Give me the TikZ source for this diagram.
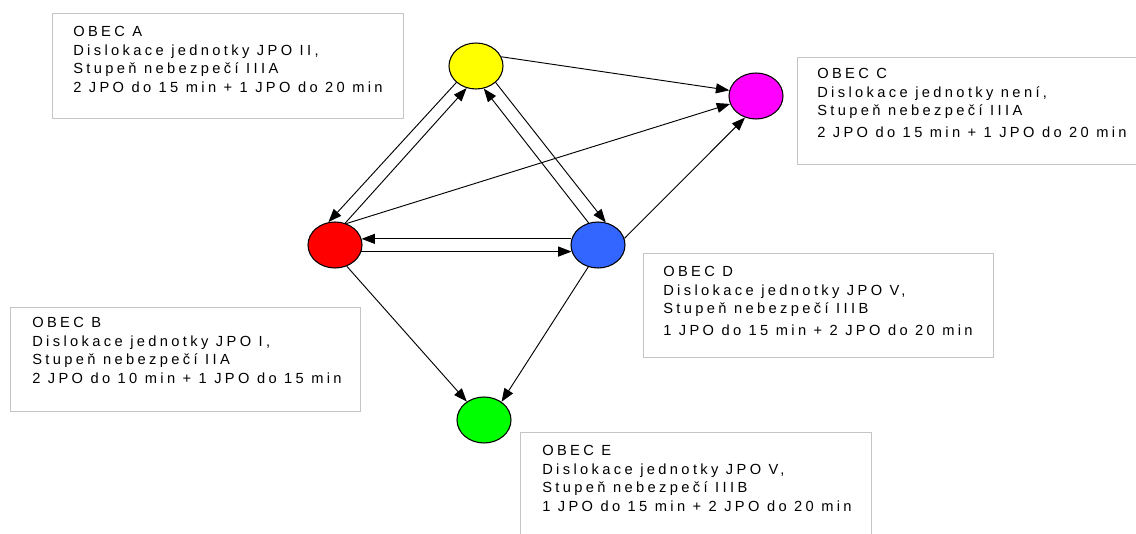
\documentclass[tikz,border=0pt]{standalone}
\usepackage{fontspec}
\usetikzlibrary{arrows.meta,shapes.geometric}
\newfontfamily\boxfont[LetterSpace=23]{Liberation Sans}
\definecolor{boxgray}{HTML}{C4C4C4}
\definecolor{cyel}{HTML}{FFFF00}
\definecolor{cmag}{HTML}{FF00FF}
\definecolor{cred}{HTML}{FF0000}
\definecolor{cblue}{HTML}{3366FF}
\definecolor{cgreen}{HTML}{00FF00}
\tikzset{
  town/.style={ellipse, draw=black, line width=0.8pt, minimum width=40.5pt, minimum height=34.5pt, inner sep=0pt},
  infobox/.style={draw=boxgray, line width=1.1pt, fill=white, inner sep=0pt, anchor=north west},
  infotext/.style={anchor=north west, inner sep=0pt, align=left, font=\boxfont\fontsize{11pt}{14pt}\selectfont},
  arr/.style={draw=black, line width=0.7pt, -{Triangle[length=10pt,width=7.5pt]}}
}
\begin{document}
\begin{tikzpicture}[x=0.75pt,y=-0.75pt]
\useasboundingbox (0,0) rectangle (1136,534);
\fill[white] (0,0) rectangle (1136,534);
\clip (0,0) rectangle (1136,534);
% info boxes
\node[infobox, minimum width=263.25pt, minimum height=78.75pt] (boxA) at (52,13) {};
\node[infotext] (txtA) at (73,26) {OBEC A\\Dislokace jednotky JPO II,\\Stupeň nebezpečí IIIA\\2 JPO do 15 min + 1 JPO do 20 min};
\node[infobox, minimum width=258pt, minimum height=80.25pt] (boxC) at (797,57) {};
\node[infotext] (txtC) at (817,68) {OBEC C\\Dislokace jednotky není,\\Stupeň nebezpečí IIIA\\[2pt]2 JPO do 15 min + 1 JPO do 20 min};
\node[infobox, minimum width=262.5pt, minimum height=78pt] (boxB) at (10,307) {};
\node[infotext] (txtB) at (32,317) {OBEC B\\Dislokace jednotky JPO I,\\Stupeň nebezpečí IIA\\2 JPO do 10 min + 1 JPO do 15 min};
\node[infobox, minimum width=262.5pt, minimum height=78pt] (boxD) at (643,253) {};
\node[infotext] (txtD) at (663,266) {OBEC D\\Dislokace jednotky JPO V,\\Stupeň nebezpečí IIIB\\[2pt]1 JPO do 15 min + 2 JPO do 20 min};
\node[infobox, minimum width=263.25pt, minimum height=90pt] (boxE) at (520,432) {};
\node[infotext] (txtE) at (542,445) {OBEC E\\Dislokace jednotky JPO V,\\Stupeň nebezpečí IIIB\\1 JPO do 15 min + 2 JPO do 20 min};
% towns
\node[town, fill=cyel] (Y) at (476,66) {};
\node[town, fill=cmag] (M) at (756,96) {};
\node[town, fill=cred] (R) at (335,245) {};
\node[town, fill=cblue] (B) at (598,245) {};
\node[town, fill=cgreen] (G) at (484,420) {};
% connectors
\draw[arr] (Y.20) -- (M.168);
\draw[arr] (R.62) -- (M.197);
\draw[arr] (B.14) -- (M.243);
\draw[arr] (Y.220) -- (R.106);
\draw[arr] (R.65) -- (Y.247);
\draw[arr] (B.113) -- (Y.289);
\draw[arr] (Y.320) -- (B.71);
\draw[arr] (B.167) -- (R.13);
\draw[arr] (R.346) -- (B.194);
\draw[arr] (R.299) -- (G.133);
\draw[arr] (B.246) -- (G.46);
\end{tikzpicture}
\end{document}
